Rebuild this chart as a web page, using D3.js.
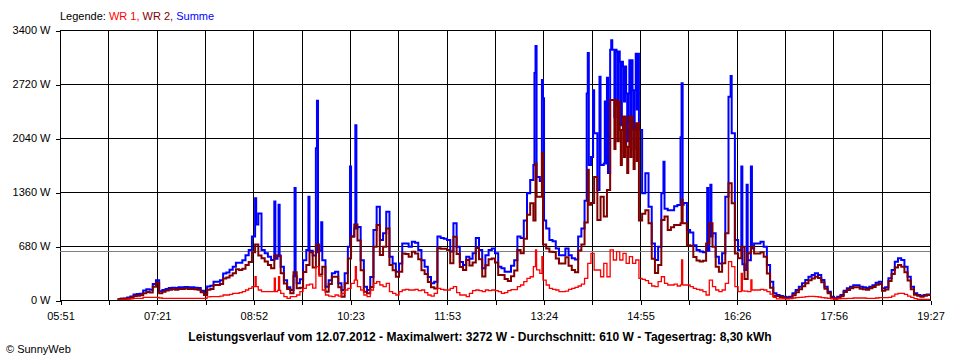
<!DOCTYPE html>
<html><head><meta charset="utf-8">
<script src="https://cdn.jsdelivr.net/npm/d3@7"></script>
<style>
body{margin:0;background:#fff}
svg{display:block}
text{font-family:"Liberation Sans",Arial,sans-serif;}
</style>
</head><body>
<svg id="chart" width="960" height="360"></svg>
<script>
// ---- data ----
const startMinute = 405;   // 06:45, first 3-minute sample
const stepMinutes = 3;
const axisStartMinute = 351; // 05:51
const axisEndMinute = 1167;  // 19:27
const timeLabels = ["05:51","07:21","08:52","10:23","11:53","13:24","14:55","16:26","17:56","19:27"];
const yTickValues = [0,680,1360,2040,2720,3400];
const averageW = 610;
const seriesNames = ["WR 1","WR 2","Summe"];
const titleText = "Leistungsverlauf vom 12.07.2012 - Maximalwert: 3272 W - Durchschnitt: 610 W - Tagesertrag: 8,30 kWh";
const creditText = "\u00A9 SunnyWeb";

// 3-minute base readings (W)
const summe = [
10,15,20,30,45, 70,75,80,120,135, 130,200,250,110,125, 140,150,155,150,160,
160,165,160,160,155, 150,117,84,170,180, 230,230,250,335,345, 380,420,470,470,500,
565,630,800,950,1090, 630,590,545,505,520, 560,420,250,160,126, 300,210,260,500,630,
620,560,600,620,500, 168,250,336,357,210, 126,336,670,800,900, 920,500,168,126,290,
880,1175,755,840,1110, 545,460,357,460,713, 713,670,735,720,630, 500,420,290,210,230,
800,780,770,755,610, 965,670,480,440,545, 520,590,780,630,400, 565,630,650,590,420,
400,357,357,430,500, 800,780,1000,1345,1510, 1700,1550,1500,1000,900, 755,740,650,565,565,
650,565,525,510,800, 900,1250,1700,1800,2100, 1385,1700,1720,1600,3150, 3150,3130,3000,2940,2600,
3020,2640,3100,2140,1345, 1595,1175,713,505,670, 1345,1150,1130,1130,1180, 1195,1200,1220,880,850,
690,630,610,600,620, 800,840,545,460,590, 1300,2560,2100,755,630, 450,378,500,650,713,
713,735,670,440,230, 84,63,50,42,34, 42,84,126,168,210, 252,294,315,336,315,
252,168,105,42,21, 42,63,118,147,168, 185,185,168,160,151, 168,185,218,231,147,
160,273,378,483,525, 504,420,294,168,84, 63,50,63,70,63
];
const wr1 = [
0,0,5,10,15, 20,20,20,34,34, 34,34,34,25,20, 20,20,20,20,20,
20,20,20,20,20, 20,20,20,40,42, 42,42,50,63,63, 71,84,84,92,105,
126,147,168,168,126, 105,105,105,105,105, 120,84,42,21,42, 42,63,105,147,189,
200,150,420,300,126, 63,50,42,63,50, 84,126,147,210,250, 168,126,63,42,126,
210,231,189,168,210, 105,84,63,105,126, 134,126,126,134,118, 126,92,63,50,84,
147,134,126,126,147, 168,92,63,63,42, 84,118,126,118,105, 126,118,126,118,105,
84,92,118,130,130, 168,189,231,273,293, 420,380,336,250,189, 147,134,126,105,105,
113,134,147,160,176, 200,273,460,588,378, 378,293,460,293,630, 504,609,504,588,460,
546,460,504,273,260, 243,210,176,168,231, 293,210,189,189,200, 176,190,189,189,168,
147,134,126,105,63, 250,168,126,105,126, 210,483,420,168,105, 115,113,105,126,126,
126,134,126,105,75, 34,13,13,13,13, 21,25,29,34,36, 42,45,45,42,38,
29,25,21,13,8, 13,17,17,21,21, 25,25,25,25,21, 21,21,25,29,29,
29,34,50,75,84, 84,71,50,34,17, 8,8,8,8,8
];
const wr2 = [
10,15,15,20,30, 50,55,60,86,100, 96,166,216,85,105, 120,130,135,130,140,
140,145,140,140,135, 130,97,64,130,138, 188,188,200,272,282, 309,336,386,378,395,
440,480,600,700,560, 525,485,440,400,560, 550,336,208,139,84, 350,147,155,353,441,
600,410,700,320,420, 105,200,294,294,160, 42,210,523,800,950, 750,374,105,84,164,
670,944,566,672,900, 440,376,294,355,587, 579,544,609,586,512, 374,328,227,160,146,
653,646,644,629,463, 797,578,417,377,503, 436,472,654,512,295, 439,512,524,472,315,
316,265,239,300,370, 630,590,770,1072,1217, 1000,1300,1300,700,650, 608,606,524,460,460,
537,431,378,350,624, 700,977,1200,1220,1550, 1007,1300,1050,1385,2520, 2520,2500,2140,2310,1930,
2310,2140,2225,1000,1085, 1130,965,520,340,440, 1007,1050,881,915,944, 944,965,965,691,682,
543,496,484,495,713, 965,672,419,355,464, 840,1470,1218,587,525, 671,265,588,671,587,
587,601,544,335,155, 50,50,37,29,21, 21,59,97,134,174, 210,249,270,294,277,
223,143,84,29,13, 29,46,101,126,147, 160,160,143,135,130, 147,164,193,202,118,
131,239,328,408,441, 420,349,244,134,67, 55,42,55,62,55
];

// one-minute peaks / dips (minute of day, W)
const summePeakMinutes = [534,552,556,571,584,591,592,596,623,628,796,797,803,804,845,846,851,857,862,864,868,871,874,877,880,883,886,889,892,916,917,933,934,958,961,980,990,995,999];
const summePeakValues  = [1280,1240,1200,1410,1300,1910,2510,980,1680,2200,2860,3200,2770,2540,2600,3110,2640,2810,2500,2800,3272,2300,2450,2200,2500,2000,2200,1900,2400,1345,1740,2050,2730,1410,1450,2820,1680,1450,1680];
const wr2PeakMinutes = [797,803,846,871,874,877,880,883,886,889,892,934];
const wr2PeakValues  = [1720,1850,1640,1900,2000,1700,1800,1600,1800,1650,1750,1260];
const wr1PeakMinutes = [534,552,556,628,797,803,934,990,999];
const wr1PeakValues  = [293,276,293,420,630,545,504,336,252];

// ---- build series (base readings + one-minute peaks) ----
function buildSeries(base, peakMinutes, peakValues) {
  const baseAt = t => base[Math.max(0, Math.min(base.length - 1, Math.floor((t - startMinute) / stepMinutes)))];
  const m = new Map();
  base.forEach((v, i) => m.set(startMinute + i * stepMinutes, v));
  const peakSet = new Set(peakMinutes);
  peakMinutes.forEach(t => { if (!peakSet.has(t + 1)) m.set(t + 1, baseAt(t + 1)); });
  peakMinutes.forEach((t, i) => m.set(t, peakValues[i]));
  return Array.from(m, ([t, v]) => ({t, v})).sort((a, b) => a.t - b.t);
}

// ---- drawing ----
const svg = d3.select("#chart");
const plotLeft = 60, plotRight = 930, plotTop = 30, plotBottom = 300;
const x = d3.scaleLinear().domain([axisStartMinute, axisEndMinute]).range([plotLeft, plotRight]);
const y = d3.scaleLinear().domain([0, 3400]).range([plotBottom, plotTop]);

const gridDivisions = (timeLabels.length - 1) * 2;
const gridTimes = d3.range(gridDivisions + 1).map(k => axisStartMinute + k * (axisEndMinute - axisStartMinute) / gridDivisions);

const grid = svg.append("g").attr("shape-rendering", "crispEdges");
grid.selectAll("line.v").data(gridTimes).join("line")
  .attr("x1", d => Math.round(x(d)) + 0.5).attr("x2", d => Math.round(x(d)) + 0.5)
  .attr("y1", plotTop).attr("y2", plotBottom)
  .attr("stroke", "#000").attr("stroke-width", 1);
grid.selectAll("line.h").data(yTickValues).join("line")
  .attr("x1", plotLeft).attr("x2", plotRight + 1)
  .attr("y1", d => Math.round(y(d)) + 0.5).attr("y2", d => Math.round(y(d)) + 0.5)
  .attr("stroke", "#000").attr("stroke-width", 1);

// average line
svg.append("line")
  .attr("x1", plotLeft).attr("x2", plotRight)
  .attr("y1", y(averageW)).attr("y2", y(averageW))
  .attr("stroke", "#808080").attr("stroke-width", 1.6)
  .attr("shape-rendering", "crispEdges");

// series
const line = d3.line()
  .x(d => x(d.t))
  .y(d => y(d.v))
  .curve(d3.curveStepAfter);

const series = [
  {values: buildSeries(summe, summePeakMinutes, summePeakValues), color: "#0000ff", width: 2},
  {values: buildSeries(wr2, wr2PeakMinutes, wr2PeakValues), color: "#800000", width: 2},
  {values: buildSeries(wr1, wr1PeakMinutes, wr1PeakValues), color: "#ff0000", width: 1.3}
];
svg.append("g").selectAll("path").data(series).join("path")
  .attr("d", d => line(d.values))
  .attr("fill", "none")
  .attr("stroke", d => d.color)
  .attr("stroke-width", d => d.width)
  .attr("stroke-linejoin", "miter");

// axes
const yAxis = d3.axisLeft(y).tickValues(yTickValues).tickSize(5).tickPadding(5)
  .tickFormat(d => d + " W");
const gy = svg.append("g").attr("transform", `translate(${plotLeft + 0.5},0)`).call(yAxis);
gy.select(".domain").remove();
gy.selectAll(".tick line").attr("stroke", "#000").attr("shape-rendering", "crispEdges")
  .attr("transform", "translate(0,0.5)");
gy.selectAll("text").attr("font-size", 11).attr("fill", "#000")
  .attr("font-family", "'Liberation Sans',Arial,sans-serif");

const xAxis = d3.axisBottom(x).tickValues(gridTimes).tickSize(4).tickPadding(8)
  .tickFormat((d, i) => i % 2 === 0 ? timeLabels[i / 2] : "");
const gx = svg.append("g").attr("transform", `translate(0.5,${plotBottom + 0.5})`).call(xAxis);
gx.select(".domain").remove();
gx.selectAll(".tick line").attr("stroke", "#000").attr("shape-rendering", "crispEdges");
gx.selectAll("text").attr("font-size", 11).attr("fill", "#000")
  .attr("font-family", "'Liberation Sans',Arial,sans-serif");

svg.append("line").attr("x1", plotLeft).attr("x2", plotRight + 1)
  .attr("y1", plotBottom + 0.5).attr("y2", plotBottom + 0.5)
  .attr("stroke", "#000").attr("stroke-width", 1).attr("shape-rendering", "crispEdges");

// legend
const legendColors = ["#ff0000", "#800000", "#0000ff"];
const legend = svg.append("text").attr("x", 60).attr("y", 20).attr("font-size", 11);
legend.append("tspan").attr("fill", "#000").text("Legende: ");
seriesNames.forEach((n, i) => {
  legend.append("tspan").attr("fill", legendColors[i])
    .text(n + (i < seriesNames.length - 1 ? ", " : ""));
});

// title
svg.append("text").attr("x", 480).attr("y", 341).attr("text-anchor", "middle")
  .attr("font-size", 12).attr("font-weight", "bold").attr("fill", "#000")
  .text(titleText);

svg.append("text").attr("x", 6).attr("y", 353).attr("font-size", 11).attr("fill", "#000")
  .text(creditText);
</script>
</body></html>
